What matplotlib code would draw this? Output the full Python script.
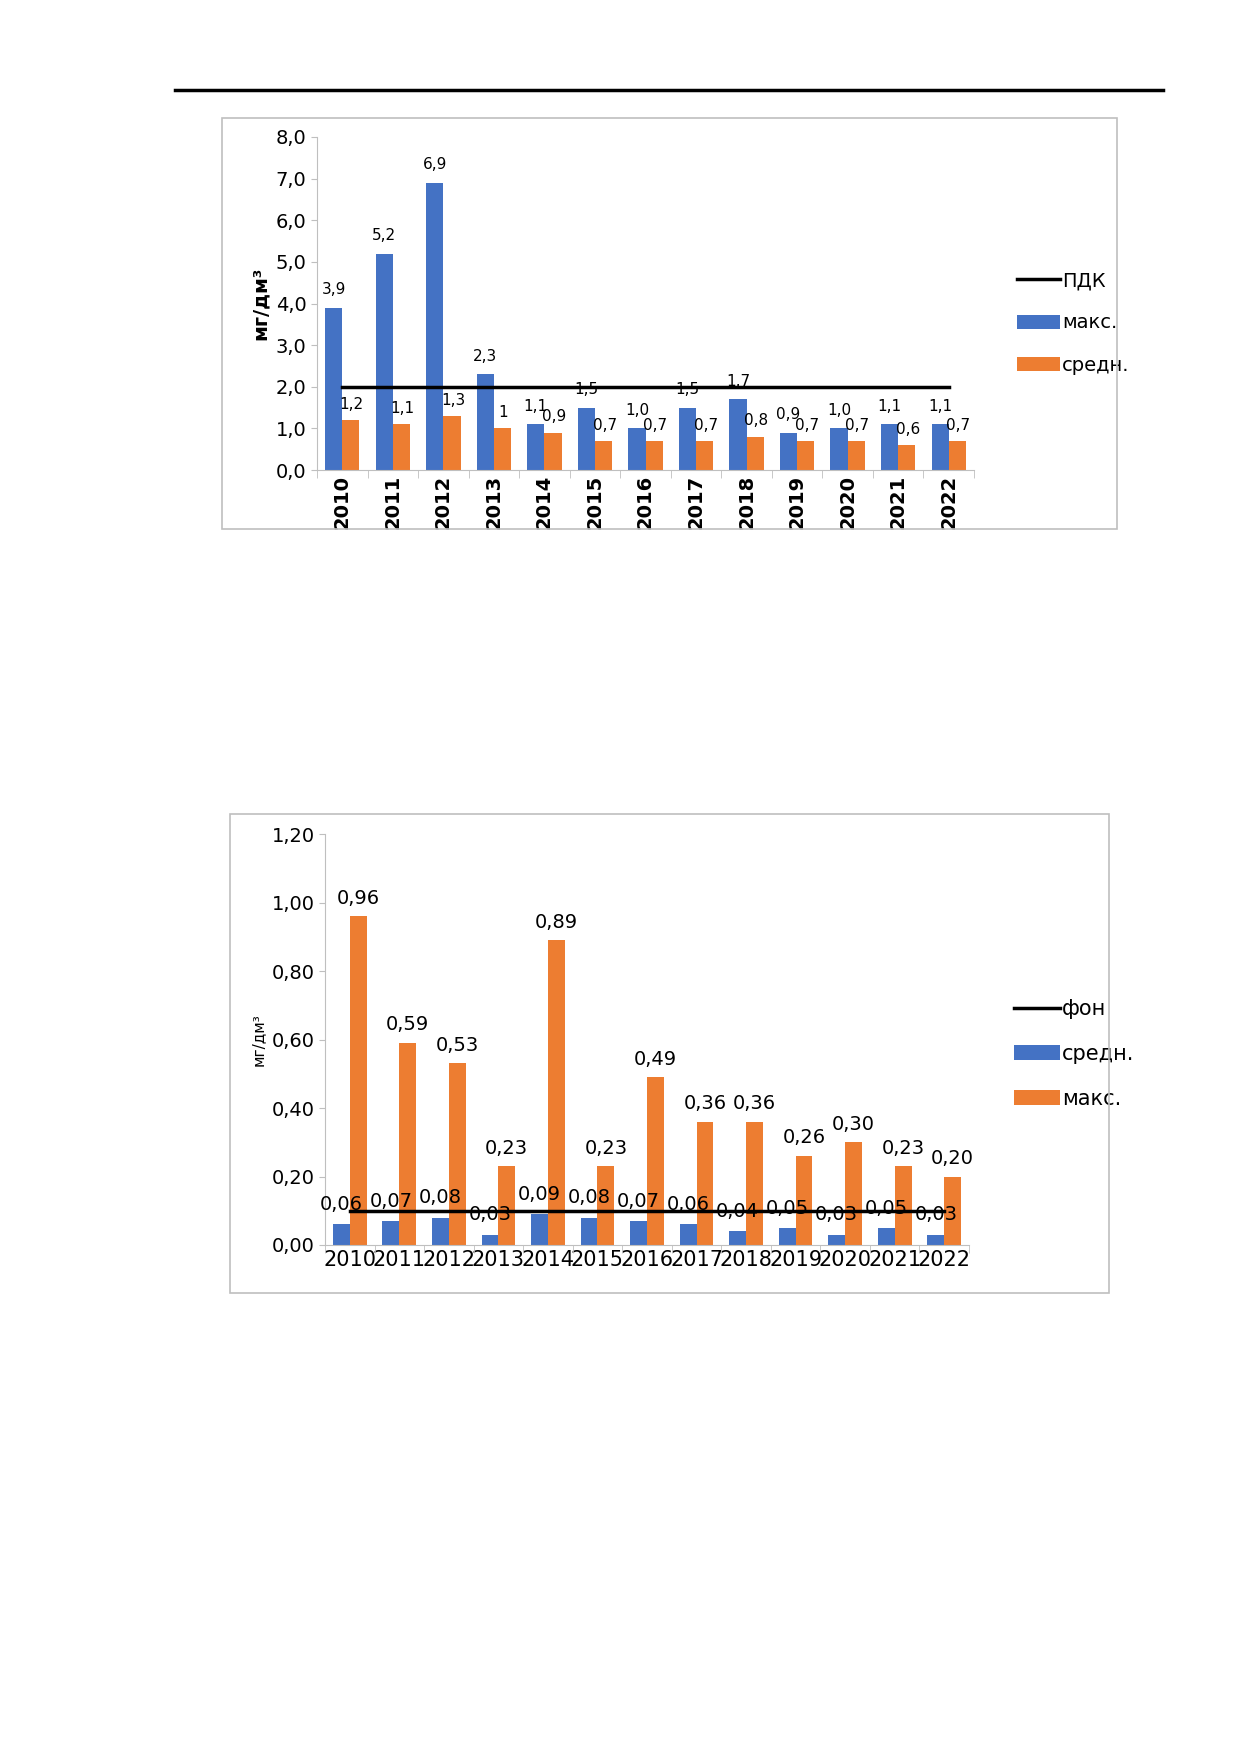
import numpy as np
import matplotlib
matplotlib.use("Agg")
import matplotlib.pyplot as plt
from matplotlib.lines import Line2D
from matplotlib.patches import Rectangle

plt.rcParams['font.family'] = ['Liberation Sans Narrow', 'DejaVu Sans']

YEARS = [str(y) for y in range(2010, 2023)]
MAX1 = [3.9, 5.2, 6.9, 2.3, 1.1, 1.5, 1.0, 1.5, 1.7, 0.9, 1.0, 1.1, 1.1]
AVG1 = [1.2, 1.1, 1.3, 1.0, 0.9, 0.7, 0.7, 0.7, 0.8, 0.7, 0.7, 0.6, 0.7]
AVG1_LBL = ["1,2", "1,1", "1,3", "1", "0,9", "0,7", "0,7", "0,7", "0,8", "0,7", "0,7", "0,6", "0,7"]
PDK = 2.0

AVG2 = [0.06, 0.07, 0.08, 0.03, 0.09, 0.08, 0.07, 0.06, 0.04, 0.05, 0.03, 0.05, 0.03]
MAX2 = [0.96, 0.59, 0.53, 0.23, 0.89, 0.23, 0.49, 0.36, 0.36, 0.26, 0.30, 0.23, 0.20]
FON = 0.10

BLUE = "#4472C4"
ORANGE = "#ED7D31"
W, H = 1240, 1754

fig = plt.figure(figsize=(12.4, 17.54), dpi=100)
fig.patch.set_facecolor("white")

def fx(px):
    return px / W

def fy(py):
    return 1 - py / H

# header rule
fig.add_artist(Line2D([fx(175), fx(1163)], [fy(90), fy(90)], color="black", lw=2.5))

# chart frames
for x0, y0, x1, y1 in [(222, 118, 1117, 529), (230, 814, 1109, 1293)]:
    fig.add_artist(Rectangle((fx(x0), fy(y1)), fx(x1 - x0), (y1 - y0) / H,
                             fill=False, edgecolor="#BFBFBF", lw=1.2))

x = np.arange(len(YEARS))
bw = 0.34

def style(ax):
    for s in ("top", "right"):
        ax.spines[s].set_visible(False)
    for s in ("left", "bottom"):
        ax.spines[s].set_color("#BFBFBF")
    ax.tick_params(axis="y", length=4, color="#BFBFBF", labelsize=14)
    ax.set_xlim(-0.5, len(YEARS) - 0.5)
    ax.set_xticks(np.arange(len(YEARS) + 1) - 0.5, minor=True)
    ax.tick_params(axis="x", which="minor", length=6, color="#BFBFBF")
    ax.tick_params(axis="x", which="major", length=0)

# ---- chart 1 ----
ax1 = fig.add_axes([fx(317), fy(470), fx(974 - 317), (470 - 137) / H])
ax1.bar(x - bw / 2, MAX1, bw, color=BLUE, label="макс.")
ax1.bar(x + bw / 2, AVG1, bw, color=ORANGE, label="средн.")
ax1.plot([x[0], x[-1]], [PDK, PDK], color="black", lw=2.5, label="ПДК")
for i in x:
    ax1.text(i - bw / 2, MAX1[i] + 0.25, f"{MAX1[i]:.1f}".replace(".", ","),
             ha="center", va="bottom", fontsize=11)
    ax1.text(i + bw / 2 + 0.02, AVG1[i] + 0.2, AVG1_LBL[i],
             ha="center", va="bottom", fontsize=11)
ax1.set_ylim(0, 8)
ax1.set_yticks(np.arange(0, 8.1, 1.0))
ax1.set_yticklabels([f"{v:.1f}".replace(".", ",") for v in np.arange(0, 8.1, 1.0)])
ax1.set_xticks(x)
ax1.set_xticklabels(YEARS, rotation=90, fontsize=14, fontweight="bold",
                    family="DejaVu Sans")
ax1.set_ylabel("мг/дм³", fontsize=14, fontweight="bold", family="DejaVu Sans")
style(ax1)
ax1.legend(loc="center left", bbox_to_anchor=(fx(1000), fy(323)),
           bbox_transform=fig.transFigure, frameon=False, fontsize=14,
           handlelength=2.2, labelspacing=1.2, handletextpad=0.1)

# ---- chart 2 ----
ax2 = fig.add_axes([fx(325), fy(1245), fx(969 - 325), (1245 - 834) / H])
ax2.bar(x - bw / 2, AVG2, bw, color=BLUE, label="средн.")
ax2.bar(x + bw / 2, MAX2, bw, color=ORANGE, label="макс.")
ax2.plot([x[0], x[-1]], [FON, FON], color="black", lw=2.5, label="фон")
for i in x:
    ax2.text(i - bw / 2, AVG2[i] + 0.03, f"{AVG2[i]:.2f}".replace(".", ","),
             ha="center", va="bottom", fontsize=14)
    ax2.text(i + bw / 2, MAX2[i] + 0.025, f"{MAX2[i]:.2f}".replace(".", ","),
             ha="center", va="bottom", fontsize=14)
ax2.set_ylim(0, 1.2)
ax2.set_yticks(np.arange(0, 1.21, 0.2))
ax2.set_yticklabels([f"{v:.2f}".replace(".", ",") for v in np.arange(0, 1.21, 0.2)])
ax2.set_xticks(x)
ax2.set_xticklabels(YEARS, fontsize=15)
ax2.set_ylabel("мг/дм³", fontsize=11, family="DejaVu Sans")
style(ax2)
ax2.legend(loc="center left", bbox_to_anchor=(fx(995), fy(1054)),
           bbox_transform=fig.transFigure, frameon=False, fontsize=15,
           handlelength=2.2, labelspacing=1.2, handletextpad=0.1)

fig.savefig("out.png", dpi=100, facecolor="white")
